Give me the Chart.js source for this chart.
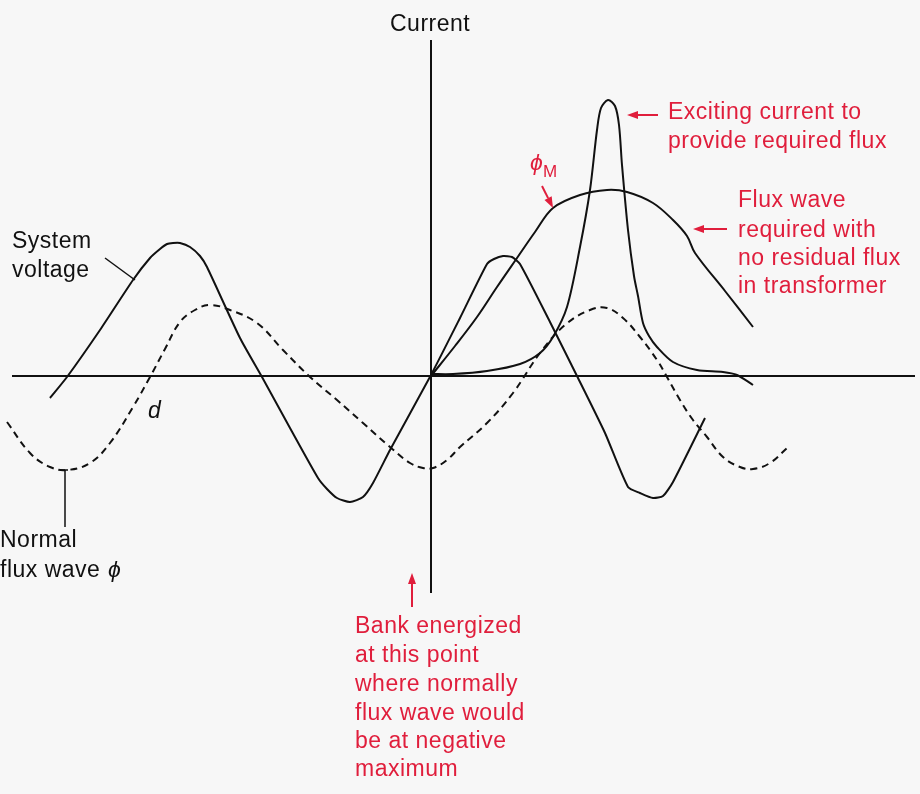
<!DOCTYPE html>
<html>
<head>
<meta charset="utf-8">
<script src="https://cdn.jsdelivr.net/npm/chart.js@4.4.1/dist/chart.umd.min.js"></script>
<style>
  body { margin: 0; background: #f7f7f7; }
  canvas { display: block; }
</style>
</head>
<body>
<canvas id="grafico" width="920" height="794"></canvas>
<script>
// x: time from the switching instant, y: amplitude (both)
const voltageX = [-381, -364, -331, -298, -281, -271, -264, -258, -251, -241, -231, -224, -191, -169, -141, -113, -104, -94, -81, -68, -58, -41, 0, 29, 56, 63, 72, 81, 89, 119, 146, 174, 197, 209, 222, 232, 242, 274];
const voltageY = [-22, -1, 46, 96, 118, 127, 132, 133, 133, 129, 120, 109, 38, -1, -52, -102, -113, -122, -126, -121, -107, -74, 1, 58, 112, 117, 120, 119, 112, 54, 0, -57, -111, -117, -122, -120, -106, -42];

const normalFluxX = [-424, -401, -381, -364, -341, -321, -298, -281, -266, -251, -236, -221, -201, -174, -148, -121, -94, -68, -41, -21, -8, 2, 16, 29, 56, 82, 109, 134, 159, 176, 192, 209, 226, 236, 249, 262, 276, 292, 309, 322, 339, 356];
const normalFluxY = [-46, -77, -91, -94, -87, -67, -31, -1, 27, 54, 66, 71, 66, 53, 26, -1, -24, -47, -71, -87, -92, -92, -84, -71, -47, -17, 23, 51, 66, 68, 58, 39, 16, -1, -24, -44, -61, -81, -91, -93, -87, -72];

const requiredFluxX = [0, 24, 46, 66, 86, 104, 122, 149, 176, 196, 222, 242, 256, 264, 294, 322];
const requiredFluxY = [0, 30, 59, 89, 118, 144, 168, 181, 186, 184, 173, 156, 140, 123, 85, 49];

const excitingX = [0, 22, 56, 89, 109, 122, 136, 149, 159, 166, 170, 177, 184, 188, 191, 197, 203, 207, 212, 218, 226, 242, 266, 292, 306, 322];
const excitingY = [2, 2, 5, 12, 23, 39, 69, 129, 186, 246, 268, 276, 270, 251, 211, 146, 100, 80, 53, 40, 29, 14, 6, 4, 1, -9];

const axisX = { h: [-419, 484], v: [0, 0] };
const axisY = { h: [0, 0], v: [336, -217] };

const BLACK = '#111111';
const RED = '#e01e3c';
const FONT = '"Liberation Sans", Arial, sans-serif';

function pts(xs, ys) {
    return xs.map((x, i) => ({ x: x, y: ys[i] }));
}

function lineSet(data, width, dash, tension) {
    return {
        data: data,
        showLine: true,
        borderColor: BLACK,
        borderWidth: width,
        borderDash: dash || [],
        pointRadius: 0,
        pointHoverRadius: 0,
        fill: false,
        tension: tension || 0
    };
}

// labels: [text, x, y, colour, italic]
const labels = [
    ['Current', -41, 345, BLACK, false],
    ['System', -419, 128, BLACK, false],
    ['voltage', -419, 99, BLACK, false],
    ['d', -283, -42, BLACK, true],
    ['Normal', -431, -171, BLACK, false],
    ['flux wave', -431, -201, BLACK, false],
    ['\u03d5', -323, -201, BLACK, true],
    ['Exciting current to', 237, 257, RED, false],
    ['provide required flux', 237, 228, RED, false],
    ['\u03d5', 99, 206, RED, true],
    ['Flux wave', 307, 169, RED, false],
    ['required with', 307, 139, RED, false],
    ['no residual flux', 307, 111, RED, false],
    ['in transformer', 307, 83, RED, false],
    ['Bank energized', -76, -257, RED, false],
    ['at this point', -76, -286, RED, false],
    ['where normally', -76, -315, RED, false],
    ['flux wave would', -76, -344, RED, false],
    ['be at negative', -76, -372, RED, false],
    ['maximum', -76, -400, RED, false]
];

// arrows: from tail to head
const arrows = [
    [227, 261, 196, 261],
    [111, 190, 122, 168],
    [296, 147, 262, 147],
    [-19, -231, -19, -197]
];

const annotate = {
    id: 'annotate',
    beforeDraw(chart) {
        const ctx = chart.ctx;
        ctx.save();
        ctx.fillStyle = '#f7f7f7';
        ctx.fillRect(0, 0, chart.width, chart.height);
        ctx.restore();
    },
    afterDraw(chart) {
        const ctx = chart.ctx;
        const xs = chart.scales.x, ys = chart.scales.y;
        ctx.save();
        ctx.textBaseline = 'alphabetic';
        ctx.textAlign = 'left';
        ctx.letterSpacing = '0.5px';
        labels.forEach(l => {
            ctx.font = (l[4] ? 'italic ' : '') + '23px ' + FONT;
            ctx.fillStyle = l[3];
            ctx.fillText(l[0], xs.getPixelForValue(l[1]), ys.getPixelForValue(l[2]));
        });
        // subscript M of phi
        ctx.font = '17px ' + FONT;
        ctx.fillStyle = RED;
        ctx.fillText('M', xs.getPixelForValue(112), ys.getPixelForValue(199));

        ctx.strokeStyle = RED;
        ctx.fillStyle = RED;
        ctx.lineWidth = 2;
        arrows.forEach(a => {
            const x1 = xs.getPixelForValue(a[0]), y1 = ys.getPixelForValue(a[1]);
            const x2 = xs.getPixelForValue(a[2]), y2 = ys.getPixelForValue(a[3]);
            const ang = Math.atan2(y2 - y1, x2 - x1);
            const len = 11, half = 4;
            const bx = x2 - len * Math.cos(ang), by = y2 - len * Math.sin(ang);
            ctx.beginPath();
            ctx.moveTo(x1, y1);
            ctx.lineTo(bx, by);
            ctx.stroke();
            ctx.beginPath();
            ctx.moveTo(x2, y2);
            ctx.lineTo(bx + half * Math.sin(ang), by - half * Math.cos(ang));
            ctx.lineTo(bx - half * Math.sin(ang), by + half * Math.cos(ang));
            ctx.closePath();
            ctx.fill();
        });
        ctx.restore();
    }
};

new Chart(document.getElementById('grafico').getContext('2d'), {
    type: 'scatter',
    data: {
        datasets: [
            lineSet(pts(axisX.h, axisY.h), 2),
            lineSet(pts(axisX.v, axisY.v), 2),
            lineSet(pts(voltageX, voltageY), 2, null, 0.2),
            lineSet(pts(normalFluxX, normalFluxY), 2, [7, 5], 0.4),
            lineSet(pts(requiredFluxX, requiredFluxY), 2, null, 0.35),
            lineSet(pts(excitingX, excitingY), 2, null, 0.3),
            // leader lines
            lineSet([{ x: -326, y: 118 }, { x: -296, y: 96 }], 1.5),
            lineSet([{ x: -366, y: -94 }, { x: -366, y: -151 }], 1.5),
            lineSet([{ x: -371, y: -94 }, { x: -363, y: -94 }], 1.5)
        ]
    },
    options: {
        responsive: false,
        animation: false,
        layout: { padding: 0 },
        scales: {
            x: { type: 'linear', min: -431, max: 489, display: false },
            y: { type: 'linear', min: -418, max: 376, display: false }
        },
        plugins: {
            legend: { display: false },
            tooltip: { enabled: false }
        }
    },
    plugins: [annotate]
});
</script>
</body>
</html>
